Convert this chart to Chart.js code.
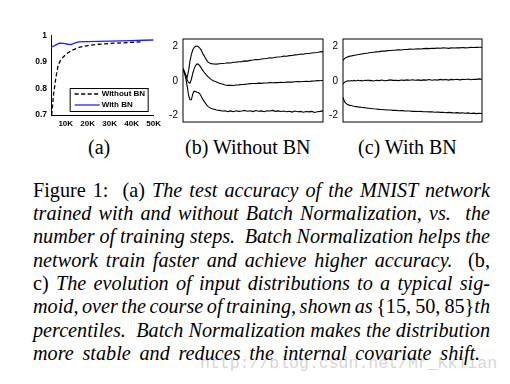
<!DOCTYPE html>
<html>
<head>
<meta charset="utf-8">
<script src="https://cdn.jsdelivr.net/npm/chart.js@4.4.0/dist/chart.umd.min.js"></script>
<style>
body { margin: 0; background: #fff; }
#page { position: relative; width: 510px; height: 384px; overflow: hidden; background: #fff; }
canvas { position: absolute; }
.sub { position: absolute; top: 136.5px; font-family: "Liberation Serif", serif; font-size: 20px; line-height: 20px; color: #000; white-space: nowrap; }
#wm { position: absolute; left: 200px; top: 356px; font-family: "Liberation Mono", monospace; font-size: 16.5px; line-height: 16.5px; color: #d6d6d6; white-space: nowrap; }
#caption { position: absolute; left: 33px; top: 178.5px; width: 457px; font-family: "Liberation Serif", serif; font-size: 20.2px; line-height: 23.35px; color: #000; }
#caption div { text-align: justify; text-align-last: justify; word-spacing: -3px; }
#caption div.last { text-align-last: left; word-spacing: 3.7px; }
</style>
</head>
<body>
<div id="page">
  <canvas id="chartA" width="150" height="105" style="left:15px;top:25px;"></canvas>
  <canvas id="chartB" width="170" height="105" style="left:160px;top:28px;"></canvas>
  <canvas id="chartC" width="168" height="105" style="left:322px;top:28px;"></canvas>
  <div class="sub" style="left:88px;">(a)</div>
  <div class="sub" style="left:185px;">(b) Without BN</div>
  <div class="sub" style="left:358px;">(c) With BN</div>
  <div id="wm">http://blog.csdn.net/Mr_KkTian</div>
  <div id="caption">
    <div>Figure 1:&nbsp; (a) <i>The test accuracy of the MNIST network</i></div>
    <div><i>trained with and without Batch Normalization, vs.&nbsp; the</i></div>
    <div><i>number of training steps.&nbsp; Batch Normalization helps the</i></div>
    <div><i>network train faster and achieve higher accuracy.</i>&nbsp; (b,</div>
    <div>c) <i>The evolution of input distributions to a typical sig-</i></div>
    <div><i>moid, over the course of training, shown as</i> {15,&#8201;50,&#8201;85}<i>th</i></div>
    <div><i>percentiles.&nbsp; Batch Normalization makes the distribution</i></div>
    <div class="last"><i>more stable and reduces the internal covariate shift.</i></div>
  </div>
</div>
<script>
// (a) test accuracy vs training steps
const stepsNoBN = [3600, 4500, 5500, 6500, 7500, 9000, 11000, 13000, 16000, 20000, 25000, 30000, 35000, 40000, 44000];
const accNoBN = [0.70, 0.78, 0.84, 0.885, 0.905, 0.92, 0.935, 0.945, 0.955, 0.962, 0.967, 0.97, 0.972, 0.974, 0.976];
const stepsBN = [3300, 5000, 7000, 9000, 11000, 12500, 14000, 16000, 20000, 25000, 30000, 35000, 40000, 45000, 50000];
const accBN = [0.956, 0.962, 0.971, 0.970, 0.967, 0.966, 0.971, 0.976, 0.977, 0.978, 0.979, 0.980, 0.981, 0.982, 0.983];
const xTicksA = [10000, 20000, 30000, 40000, 50000];
const yTicksA = [0.7, 0.8, 0.9, 1];

// (b), (c) percentiles {15, 50, 85} over the course of training (% of steps)
const progress = [0, 1, 2, 3, 4, 5, 6, 7, 8, 9, 10, 11, 12, 13, 14, 15, 16, 17, 18, 19, 20,
  22, 24, 26, 28, 30, 32, 34, 36, 38, 40, 42, 44, 46, 48, 50, 52, 54, 56, 58, 60,
  62, 64, 66, 68, 70, 72, 74, 76, 78, 80, 82, 84, 86, 88, 90, 92, 94, 96, 98, 100];

const noBN85 = [0.72, 0.55, 0.35, 0.2, 0.6, 1.17, 1.55, 1.82, 1.95, 2.02, 2.04, 2.0, 1.92, 1.8, 1.62, 1.48, 1.33, 1.2, 1.1, 1.04, 1.01,
  0.99, 0.98, 1.0, 1.02, 1.03, 1.06, 1.05, 1.09, 1.10, 1.12, 1.13, 1.17, 1.16, 1.2, 1.22, 1.25, 1.24, 1.28, 1.3, 1.31,
  1.35, 1.34, 1.38, 1.4, 1.41, 1.45, 1.44, 1.48, 1.49, 1.52, 1.53, 1.57, 1.56, 1.6, 1.6, 1.63, 1.65, 1.66, 1.7, 1.71];
const noBN50 = [0.72, 0.5, 0.3, 0.05, -0.1, -0.12, 0.1, 0.45, 0.72, 0.9, 0.99, 0.97, 0.88, 0.76, 0.63, 0.52, 0.42, 0.33, 0.24, 0.16, 0.09,
  0.0, -0.06, -0.13, -0.18, -0.24, -0.26, -0.25, -0.27, -0.24, -0.23, -0.21, -0.2, -0.18, -0.16, -0.15, -0.15, -0.13, -0.14, -0.12, -0.12,
  -0.1, -0.11, -0.09, -0.1, -0.08, -0.09, -0.07, -0.06, -0.07, -0.05, -0.04, -0.05, -0.03, -0.02, -0.03, -0.01, 0.0, 0.02, 0.01, 0.04];
const noBN15 = [0.72, 0.45, 0.15, -0.3, -0.85, -1.1, -1.1, -0.75, -0.6, -0.62, -0.66, -0.68, -0.75, -0.9, -1.05, -1.18, -1.3, -1.42, -1.5, -1.56, -1.6,
  -1.65, -1.7, -1.72, -1.76, -1.74, -1.79, -1.75, -1.8, -1.74, -1.78, -1.76, -1.72, -1.77, -1.74, -1.79, -1.73, -1.77, -1.75, -1.8, -1.74,
  -1.76, -1.72, -1.78, -1.75, -1.79, -1.76, -1.8, -1.77, -1.82, -1.76, -1.8, -1.78, -1.83, -1.79, -1.81, -1.78, -1.84, -1.8, -1.78, -1.75];

const bn85 = [1.2, 1.3, 1.36, 1.4, 1.42, 1.45, 1.46, 1.48, 1.5, 1.5, 1.53, 1.54, 1.55, 1.57, 1.58, 1.6, 1.6, 1.62, 1.63, 1.65, 1.66,
  1.68, 1.7, 1.71, 1.74, 1.74, 1.77, 1.78, 1.79, 1.8, 1.82, 1.81, 1.84, 1.84, 1.86, 1.85, 1.87, 1.88, 1.87, 1.89, 1.9,
  1.89, 1.91, 1.9, 1.92, 1.91, 1.93, 1.92, 1.9, 1.93, 1.92, 1.94, 1.93, 1.95, 1.93, 1.94, 1.96, 1.95, 1.96, 1.97, 1.97];
const bn50 = [-0.18, -0.08, -0.03, 0.0, 0.01, 0.0, 0.02, 0.0, 0.03, 0.01, 0.02, 0.04, 0.01, 0.03, 0.0, 0.02, 0.04, 0.02, 0.05, 0.02, 0.03,
  0.0, 0.04, 0.02, 0.05, 0.01, 0.03, 0.06, 0.03, 0.04, 0.02, 0.05, 0.03, 0.06, 0.04, 0.07, 0.04, 0.06, 0.03, 0.06, 0.05,
  0.08, 0.04, 0.07, 0.05, 0.09, 0.06, 0.08, 0.05, 0.09, 0.07, 0.1, 0.06, 0.09, 0.08, 0.11, 0.07, 0.1, 0.09, 0.12, 0.1];
const bn15 = [-0.95, -1.2, -1.3, -1.36, -1.4, -1.43, -1.44, -1.47, -1.48, -1.5, -1.5, -1.52, -1.53, -1.54, -1.55, -1.56, -1.57, -1.58, -1.6, -1.6, -1.61,
  -1.63, -1.64, -1.66, -1.67, -1.68, -1.7, -1.7, -1.72, -1.72, -1.74, -1.73, -1.75, -1.76, -1.76, -1.78, -1.77, -1.79, -1.78, -1.8, -1.8,
  -1.81, -1.8, -1.83, -1.82, -1.84, -1.83, -1.86, -1.84, -1.85, -1.87, -1.85, -1.88, -1.86, -1.89, -1.87, -1.9, -1.88, -1.91, -1.89, -1.9];
const yTicksBC = [-2, 0, 2];

const toXY = (xs, ys) => xs.map((x, i) => ({ x, y: ys[i] }));

// boxed legend in lower right of the plot area
const boxLegend = {
  id: 'boxLegend',
  afterDraw(chart) {
    const a = chart.chartArea, c = chart.ctx;
    const w = 78, h = 23;
    const x = a.right - 6 - w, y = a.bottom - 4 - h;
    c.save();
    c.fillStyle = '#fff';
    c.fillRect(x, y, w, h);
    c.strokeStyle = '#000';
    c.lineWidth = 1;
    c.strokeRect(x + 0.5, y + 0.5, w, h);
    c.font = 'bold 8px "Liberation Sans", Arial';
    c.textBaseline = 'middle';
    chart.data.datasets.forEach((ds, i) => {
      const ly = y + 6 + i * 11;
      c.strokeStyle = ds.borderColor;
      c.lineWidth = ds.borderWidth;
      c.setLineDash(ds.borderDash || []);
      c.beginPath();
      c.moveTo(x + 5, ly);
      c.lineTo(x + 30, ly);
      c.stroke();
      c.setLineDash([]);
      c.fillStyle = '#000';
      c.fillText(ds.label, x + 32, ly);
    });
    c.restore();
  }
};

// full box round the plot area
const frame = {
  id: 'frame',
  afterDraw(chart) {
    const a = chart.chartArea, c = chart.ctx;
    c.save();
    c.strokeStyle = '#000';
    c.lineWidth = 1;
    c.strokeRect(a.left, a.top, a.right - a.left, a.bottom - a.top);
    c.restore();
  }
};

new Chart(document.getElementById('chartA'), {
  type: 'line',
  data: {
    datasets: [
      { label: 'Without BN', data: toXY(stepsNoBN, accNoBN), borderColor: '#000', borderWidth: 1.3, borderDash: [4, 2.5] },
      { label: 'With BN', data: toXY(stepsBN, accBN), borderColor: '#1f1fff', borderWidth: 1.3 }
    ]
  },
  options: {
    responsive: false,
    devicePixelRatio: 1,
    animation: false,
    layout: { padding: { top: 10.5, right: 9, left: 0, bottom: 0 } },
    elements: { point: { radius: 0 }, line: { tension: 0 } },
    plugins: { legend: { display: false }, tooltip: { enabled: false } },
    scales: {
      x: {
        type: 'linear', min: 3300, max: 50000,
        afterBuildTicks: s => { s.ticks = xTicksA.map(v => ({ value: v })); },
        afterFit: s => { s.height = 15; },
        grid: { display: false, drawTicks: false },
        border: { display: true, color: '#000', width: 1 },
        ticks: { padding: 4, maxRotation: 0, color: '#000', font: { family: '"Liberation Sans", Arial', size: 8, weight: 'bold' },
          callback: v => (v / 1000) + 'K' }
      },
      y: {
        min: 0.7, max: 1,
        afterBuildTicks: s => { s.ticks = yTicksA.map(v => ({ value: v })); },
        afterFit: s => { s.width = 36; },
        grid: { display: false, drawTicks: false },
        border: { display: true, color: '#000', width: 1 },
        ticks: { padding: 4, color: '#000', font: { family: '"Liberation Sans", Arial', size: 8.5, weight: 'bold' },
          callback: v => String(v) }
      }
    }
  },
  plugins: [boxLegend]
});

function percentileChart(id, p85, p50, p15, yWidth, padRight) {
  const line = d => ({ data: toXY(progress, d), borderColor: '#000', borderWidth: 1.1 });
  return new Chart(document.getElementById(id), {
    type: 'line',
    data: { datasets: [line(p85), line(p50), line(p15)] },
    options: {
      responsive: false,
      devicePixelRatio: 1,
      animation: false,
      layout: { padding: { top: 9, right: padRight, left: 0, bottom: 6 } },
      elements: { point: { radius: 0 }, line: { tension: 0 } },
      plugins: { legend: { display: false }, tooltip: { enabled: false } },
      scales: {
        x: { type: 'linear', min: 0, max: 100, display: false },
        y: {
          min: -2.4, max: 2.45,
          afterBuildTicks: s => { s.ticks = yTicksBC.map(v => ({ value: v })); },
          afterFit: s => { s.width = yWidth; },
          grid: { display: false, drawTicks: false },
          border: { display: false },
          ticks: { padding: 5, color: '#000', font: { family: '"Liberation Sans", Arial', size: 10 } }
        }
      }
    },
    plugins: [frame]
  });
}

percentileChart('chartB', noBN85, noBN50, noBN15, 23, 7);
percentileChart('chartC', bn85, bn50, bn15, 21, 8);
</script>
</body>
</html>
